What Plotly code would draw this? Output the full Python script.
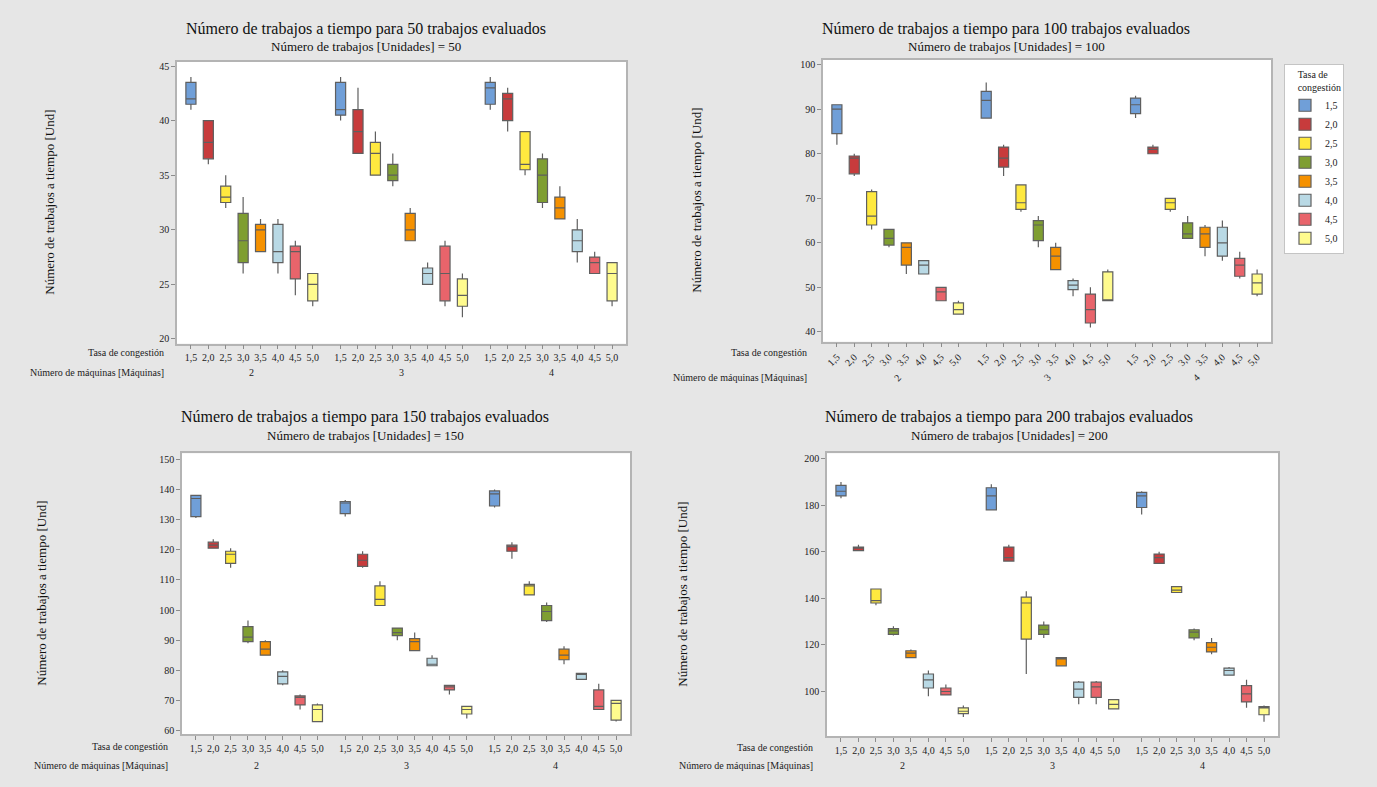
import plotly.graph_objects as go

# ---------------------------------------------------------------- data
RATES = ["1,5", "2,0", "2,5", "3,0", "3,5", "4,0", "4,5", "5,0"]
MACHINES = ["2", "3", "4"]
JOBS = [50, 100, 150, 200]

# Box statistics per panel; each list holds 24 values ordered
# machine 2 (rates 1,5 .. 5,0), then machine 3, then machine 4.
J50_LOW = [41.0, 36.0, 32.0, 26.0, 28.0, 26.0, 24.0, 23.0,
           40.0, 37.0, 35.0, 34.0, 29.0, 25.0, 23.0, 22.0,
           41.0, 39.0, 35.0, 32.0, 31.0, 27.0, 26.0, 23.0]
J50_Q1 = [41.5, 36.5, 32.5, 27.0, 28.0, 27.0, 25.5, 23.5,
          40.5, 37.0, 35.0, 34.5, 29.0, 25.0, 23.5, 23.0,
          41.5, 40.0, 35.5, 32.5, 31.0, 28.0, 26.0, 23.5]
J50_MED = [42.0, 38.0, 33.0, 29.0, 30.0, 28.0, 28.0, 25.0,
           41.0, 39.0, 37.0, 35.0, 30.0, 26.0, 26.0, 24.0,
           43.0, 42.0, 36.0, 35.0, 32.0, 29.0, 27.0, 26.0]
J50_Q3 = [43.5, 40.0, 34.0, 31.5, 30.5, 30.5, 28.5, 26.0,
          43.5, 41.0, 38.0, 36.0, 31.5, 26.5, 28.5, 25.5,
          43.5, 42.5, 39.0, 36.5, 33.0, 30.0, 27.5, 27.0]
J50_HIGH = [44.0, 40.0, 35.0, 33.0, 31.0, 31.0, 29.0, 26.0,
            44.0, 43.0, 39.0, 37.0, 32.0, 27.0, 29.0, 26.0,
            44.0, 43.0, 39.0, 37.0, 34.0, 31.0, 28.0, 27.0]

J100_LOW = [82.0, 75.0, 63.0, 59.0, 53.0, 53.0, 47.0, 44.0,
            88.0, 75.0, 67.0, 59.0, 54.0, 48.0, 41.0, 47.0,
            88.0, 80.0, 67.0, 61.0, 57.0, 56.0, 52.0, 48.0]
J100_Q1 = [84.5, 75.5, 64.0, 59.5, 55.0, 53.0, 47.0, 44.0,
           88.0, 77.0, 67.5, 60.5, 54.0, 49.5, 42.0, 47.0,
           89.0, 80.0, 67.5, 61.0, 59.0, 57.0, 52.5, 48.5]
J100_MED = [90.0, 79.0, 66.0, 61.0, 59.0, 55.0, 49.0, 45.0,
            92.0, 79.0, 69.0, 64.0, 57.0, 50.5, 45.0, 47.0,
            91.0, 81.0, 69.0, 62.0, 62.0, 60.0, 55.0, 51.0]
J100_Q3 = [91.0, 79.5, 71.5, 63.0, 60.0, 56.0, 50.0, 46.5,
           94.0, 81.5, 73.0, 65.0, 59.0, 51.5, 48.5, 53.5,
           92.5, 81.5, 70.0, 64.5, 63.5, 63.5, 56.5, 53.0]
J100_HIGH = [91.0, 80.0, 72.0, 63.0, 60.0, 56.0, 50.0, 47.0,
             96.0, 82.0, 73.0, 66.0, 60.0, 52.0, 50.0, 54.0,
             93.0, 82.0, 70.0, 66.0, 64.0, 65.0, 58.0, 54.0]

J150_LOW = [130.5, 120.5, 114.0, 89.0, 85.0, 75.0, 67.0, 63.0,
            131.0, 114.0, 101.5, 90.0, 86.5, 81.5, 72.0, 64.0,
            134.0, 117.0, 105.0, 96.0, 82.0, 77.0, 67.0, 63.0]
J150_Q1 = [131.0, 120.5, 115.5, 89.5, 85.0, 75.5, 68.5, 63.0,
           132.0, 114.5, 101.5, 91.5, 86.5, 81.5, 73.5, 65.5,
           134.5, 119.5, 105.0, 96.5, 83.5, 77.0, 67.0, 63.5]
J150_MED = [137.0, 121.5, 118.5, 91.0, 87.0, 78.0, 71.0, 67.0,
            135.5, 116.5, 103.5, 92.5, 89.5, 82.0, 74.5, 67.0,
            138.5, 121.0, 108.0, 99.5, 85.0, 79.0, 68.0, 69.0]
J150_Q3 = [138.0, 122.5, 119.5, 94.5, 89.5, 79.5, 71.5, 68.5,
           136.0, 118.5, 108.0, 94.0, 90.5, 84.0, 75.0, 68.0,
           139.5, 121.5, 108.5, 101.5, 87.0, 79.0, 73.5, 70.0]
J150_HIGH = [138.0, 123.5, 120.5, 96.5, 90.0, 80.0, 72.0, 69.0,
             136.5, 119.5, 109.5, 94.0, 92.5, 85.0, 75.0, 68.0,
             140.0, 122.5, 109.5, 102.5, 88.0, 79.0, 75.5, 70.0]

J200_LOW = [183.0, 160.5, 137.0, 124.0, 114.5, 98.0, 98.5, 89.0,
            178.0, 156.0, 107.5, 123.0, 111.0, 94.5, 94.5, 92.5,
            176.0, 155.0, 142.5, 122.0, 116.0, 107.0, 93.0, 87.0]
J200_Q1 = [184.0, 160.5, 138.0, 124.5, 114.5, 101.5, 98.5, 90.5,
           178.0, 156.0, 122.5, 124.5, 111.0, 97.5, 97.5, 92.5,
           179.0, 155.0, 142.5, 123.0, 117.0, 107.0, 95.5, 90.0]
J200_MED = [186.0, 161.5, 139.0, 126.0, 116.5, 105.0, 100.0, 91.5,
            184.0, 157.5, 138.0, 126.5, 114.0, 101.0, 102.0, 94.5,
            184.0, 157.5, 143.5, 125.5, 119.0, 109.0, 99.0, 93.0]
J200_Q3 = [188.5, 162.0, 144.0, 127.0, 117.5, 107.5, 101.5, 93.0,
           187.5, 162.0, 140.5, 128.5, 114.5, 104.0, 104.0, 96.5,
           185.5, 159.0, 145.0, 126.5, 121.0, 110.0, 102.5, 93.5]
J200_HIGH = [190.0, 163.0, 144.0, 128.0, 118.0, 109.0, 103.0, 94.0,
             189.0, 163.0, 143.0, 130.0, 114.5, 104.5, 104.5, 96.5,
             186.0, 160.0, 145.0, 127.0, 123.0, 110.5, 105.0, 94.0]

# ---------------------------------------------------------------- styling
COLORS = ["#709fd8", "#c73b3c", "#ffe93f", "#7f9e31",
          "#f59100", "#b9d9e5", "#e8646b", "#fffb8e"]
SERIF = "Liberation Serif, Times New Roman, serif"
W, H = 1377, 787
GROUP_STEP = 8.6          # spacing between machine groups, in box units
BOX_W = 0.58

STATS = {
    50: (J50_LOW, J50_Q1, J50_MED, J50_Q3, J50_HIGH),
    100: (J100_LOW, J100_Q1, J100_MED, J100_Q3, J100_HIGH),
    150: (J150_LOW, J150_Q1, J150_MED, J150_Q3, J150_HIGH),
    200: (J200_LOW, J200_Q1, J200_MED, J200_Q3, J200_HIGH),
}

# pixel geometry of each plotting area: left, right, top, bottom
AREAS = {
    50: (177, 626, 61, 344),
    100: (823, 1271, 59, 342),
    150: (182, 630, 454, 736),
    200: (827, 1278, 454, 738),
}
Y_RANGES = {50: (19.57, 45.39), 100: (37.8, 101.1),
            150: (58.8, 152.0), 200: (80.8, 202.3)}
Y_DTICK = {50: 5, 100: 10, 150: 10, 200: 20}
TITLE_POS = {50: (366, 28), 100: (1006, 28), 150: (365, 418), 200: (1009, 418)}
YTITLE_X = {50: 50, 100: 697, 150: 42, 200: 683}
ROW_HDR = {50: (166, 353, 373), 100: (809, 353, 378),
           150: (170, 748, 767), 200: (815, 749, 767)}
ROTATED = {100}


def px(x):
    return x / W


def py(y):
    return 1 - y / H


fig = go.Figure()
annotations = []
layout_axes = {}

for k, jobs in enumerate(JOBS, start=1):
    low, q1, med, q3, high = STATS[jobs]
    xa = "x" if k == 1 else f"x{k}"
    ya = "y" if k == 1 else f"y{k}"
    positions = []
    for r, rate in enumerate(RATES):
        idx = [g * len(RATES) + r for g in range(len(MACHINES))]
        xs = [g * GROUP_STEP + r for g in range(len(MACHINES))]
        positions.extend(xs)
        fig.add_trace(go.Box(
            x=xs,
            q1=[q1[i] for i in idx],
            median=[med[i] for i in idx],
            q3=[q3[i] for i in idx],
            lowerfence=[low[i] for i in idx],
            upperfence=[high[i] for i in idx],
            name=rate,
            legendgroup=rate,
            showlegend=(k == 1),
            fillcolor=COLORS[r],
            line=dict(color="#5f5f5f", width=1.2),
            whiskerwidth=0,
            width=BOX_W,
            boxpoints=False,
            xaxis=xa, yaxis=ya,
            hoverinfo="skip",
        ))

    left, right, top, bottom = AREAS[jobs]
    n_last = (len(MACHINES) - 1) * GROUP_STEP + len(RATES) - 1
    tickvals = sorted(positions)
    ticktext = [RATES[i % len(RATES)] for i in range(len(tickvals))]
    rot = jobs in ROTATED
    axis_common = dict(showline=True, mirror=True, linecolor="#b4b4b4",
                       linewidth=1.5, ticks="outside", ticklen=4,
                       tickcolor="#8c8c8c", showgrid=False, zeroline=False,
                       tickfont=dict(family=SERIF, size=10, color="#222222"))
    layout_axes["xaxis" if k == 1 else f"xaxis{k}"] = dict(
        domain=[px(left), px(right)], anchor=ya,
        range=[-0.8, n_last + 0.8], tickmode="array",
        tickvals=tickvals, ticktext=ticktext,
        tickangle=-45 if rot else 0, **axis_common)
    y0, y1 = Y_RANGES[jobs]
    layout_axes["yaxis" if k == 1 else f"yaxis{k}"] = dict(
        domain=[py(bottom), py(top)], anchor=xa,
        range=[y0, y1], dtick=Y_DTICK[jobs], tick0=0, **axis_common)

    # titles
    tx, ty = TITLE_POS[jobs]
    annotations.append(dict(
        text=f"Número de trabajos a tiempo para {jobs} trabajos evaluados",
        x=px(tx), y=py(ty), xref="paper", yref="paper", showarrow=False,
        xanchor="center", yanchor="middle",
        font=dict(family=SERIF, size=16, color="#111111")))
    annotations.append(dict(
        text=f"Número de trabajos [Unidades] = {jobs}",
        x=px(tx), y=py(ty + 18), xref="paper", yref="paper", showarrow=False,
        xanchor="center", yanchor="middle",
        font=dict(family=SERIF, size=13, color="#111111")))
    # y-axis title
    annotations.append(dict(
        text="Número de trabajos a tiempo [Und]",
        x=px(YTITLE_X[jobs]), y=py((top + bottom) / 2),
        xref="paper", yref="paper", showarrow=False, textangle=-90,
        xanchor="center", yanchor="middle",
        font=dict(family=SERIF, size=13, color="#111111")))
    # row headers for the two-level category axis
    hx, hy1, hy2 = ROW_HDR[jobs]
    annotations.append(dict(
        text="Tasa de congestión", x=px(hx), y=py(hy1),
        xref="paper", yref="paper", showarrow=False,
        xanchor="right", yanchor="middle",
        font=dict(family=SERIF, size=10, color="#222222")))
    annotations.append(dict(
        text="Número de máquinas [Máquinas]", x=px(hx), y=py(hy2),
        xref="paper", yref="paper", showarrow=False,
        xanchor="right", yanchor="middle",
        font=dict(family=SERIF, size=10, color="#222222")))
    # machine group labels under each group of boxes
    for g, m in enumerate(MACHINES):
        annotations.append(dict(
            text=m, x=g * GROUP_STEP + (len(RATES) - 1) / 2, xref=xa,
            y=py(hy2), yref="paper", showarrow=False,
            textangle=-45 if rot else 0,
            xanchor="center", yanchor="middle",
            font=dict(family=SERIF, size=10, color="#222222")))

fig.update_layout(
    width=W, height=H, autosize=False,
    margin=dict(l=0, r=0, t=0, b=0),
    paper_bgcolor="#e6e6e6", plot_bgcolor="#ffffff",
    font=dict(family=SERIF, size=10, color="#222222"),
    annotations=annotations,
    legend=dict(
        x=px(1284), y=py(63), xanchor="left", yanchor="top",
        bgcolor="#ffffff", bordercolor="#c4c4c4", borderwidth=1,
        title=dict(text="Tasa de<br>congestión", side="top right",
                   font=dict(family=SERIF, size=10)),
        font=dict(family=SERIF, size=10, color="#222222"),
        tracegroupgap=0, itemwidth=30,
    ),
    showlegend=True,
    **layout_axes,
)

fig.write_html("out.html")
